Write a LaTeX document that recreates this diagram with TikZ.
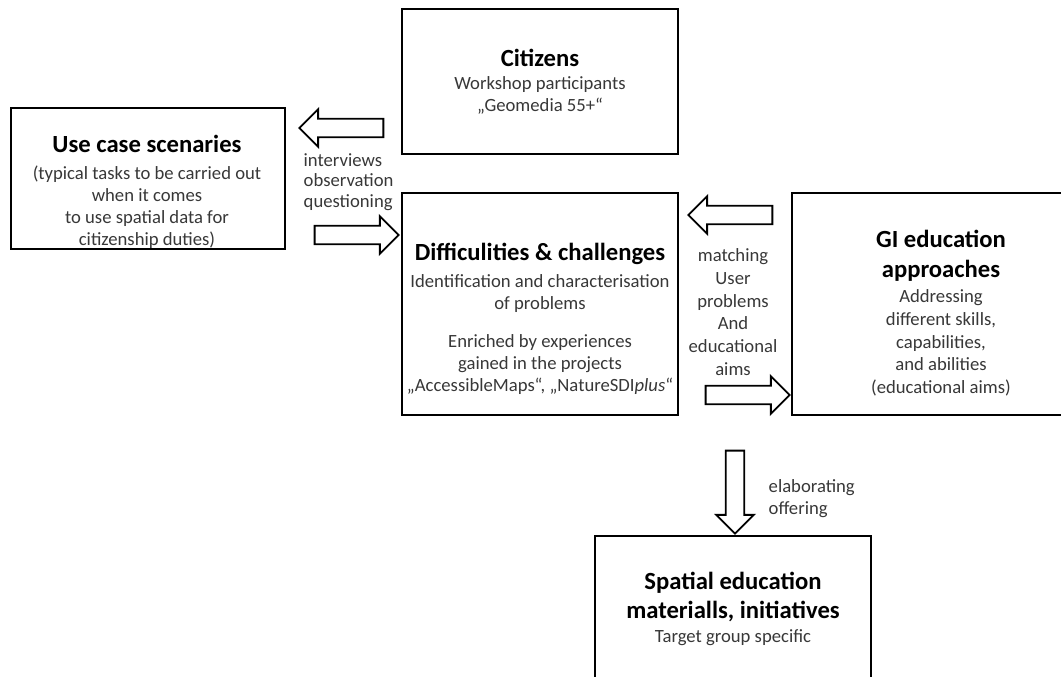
\documentclass[tikz,border=0pt]{standalone}
\usepackage{fontspec}
\setmainfont{Carlito}
\usetikzlibrary{shapes.arrows}

\tikzset{
  box/.style={draw, line width=1.4pt, fill=white, inner sep=0pt},
  blk/.style={single arrow, draw, line width=1.4pt, fill=white, inner sep=0pt,
    text height=12.5pt, text depth=0pt, minimum height=63pt, minimum width=28pt,
    single arrow tip angle=90, single arrow head indent=0pt},
  txt/.style={align=center, text=black!78, font=\fontsize{14}{16.5}\selectfont},
  lbl/.style={txt, align=left}
}
\newcommand{\boxtitle}[1]{{\fontsize{18.5}{22}\selectfont\bfseries\color{black}#1}}

\begin{document}
\begin{tikzpicture}[x=0.75pt,y=-0.75pt]
\useasboundingbox (0,0) rectangle (1061,677);
\clip (0,0) rectangle (1061,677);

\node[box, minimum width=207pt, minimum height=108.75pt] (C) at (540,81.5) {};
\node[box, minimum width=205.5pt, minimum height=105.75pt] (U) at (148,178.5) {};
\node[box, minimum width=207pt, minimum height=166.5pt] (D) at (540,304) {};
\node[box, minimum width=223.5pt, minimum height=166.5pt] (G) at (941,304) {};
\node[box, minimum width=207pt, minimum height=109.5pt] (S) at (733,609) {};

\node[txt] (Ct) at (C) {\boxtitle{Citizens}\\[0.75pt]Workshop participants\\„Geomedia 55+“};
\node[txt] (Ut) at (147,192) {\boxtitle{Use case scenaries}\\[3.75pt](typical tasks to be carried out\\when it comes\\to use spatial data for\\citizenship duties)};
\node[txt] (Dt) at (540,318.5) {\boxtitle{Difficulities \& challenges}\\[3.75pt]Identification and characterisation\\of problems\\[12pt]Enriched by experiences\\gained in the projects\\„AccessibleMaps“, „NatureSDI\textit{plus}“};
\node[txt, font=\fontsize{14}{17}\selectfont] (Gt) at (941,313) {\boxtitle{GI education}\\[5.5pt]\boxtitle{approaches}\\[2pt]Addressing\\different skills,\\capabilities,\\and abilities\\(educational aims)};
\node[txt] (St) at (733,609) {\boxtitle{Spatial education}\\[5.25pt]\boxtitle{materialls, initiatives}\\[2pt]Target group specific};

\node[blk, shape border rotate=180] (CU) at (346,128) {};
\node[blk] (UD) at (352,235) {};
\node[blk, shape border rotate=180] (GD) at (735,215) {};
\node[blk] (DG) at (743,395) {};
\node[blk, shape border rotate=270, text width=12.5pt, text height=0pt, minimum height=62.25pt] (DS) at (735,487.5) {};

\node[lbl, font=\fontsize{14}{15.4}\selectfont, anchor=west] (Li) at (299,182) {interviews\\observation\\questioning};
\node[txt, font=\fontsize{14}{17.1}\selectfont] (Lm) at (733,312) {matching\\User\\problems\\And\\educational\\aims};
\node[lbl, anchor=west] (Le) at (764,499) {elaborating\\offering};
\end{tikzpicture}
\end{document}
